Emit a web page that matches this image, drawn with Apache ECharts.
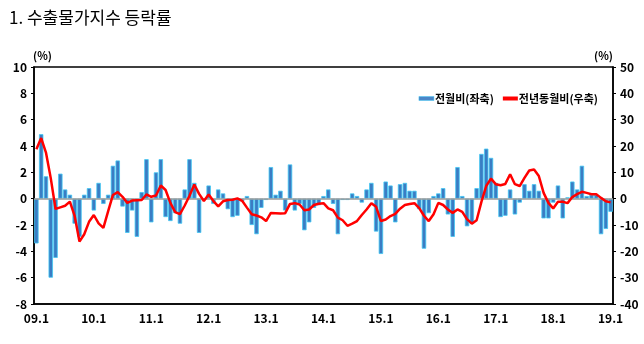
<!DOCTYPE html>
<html>
<head>
<meta charset="utf-8">
<script src="https://cdn.jsdelivr.net/npm/echarts@6/dist/echarts.min.js"></script>
<style>
html,body{margin:0;padding:0;background:#fff;}
#chart{width:644px;height:344px;}
</style>
</head>
<body>
<div id="chart"></div>
<script>
// Monthly categories 2009.1 - 2019.1
const years = ['09','10','11','12','13','14','15','16','17','18','19'];
const tickLabels = ['09.1','10.1','11.1','12.1','13.1','14.1','15.1','16.1','17.1','18.1','19.1'];
const categories = [];
years.forEach(function (y, k) {
  const last = (k === years.length - 1) ? 1 : 12;
  for (let m = 1; m <= last; m++) categories.push(y + '.' + m);
});

// 전월비 (left axis, %)
const momValues = [
  -3.4, 4.9, 1.7, -6.0, -4.5, 1.9, 0.7, 0.3, -1.9, -2.9, 0.3, 0.8,
  -0.9, 1.2, -0.4, 0.3, 2.5, 2.9, -0.6, -2.6, -0.9, -2.9, 0.5, 3.0,
  -1.8, 2.0, 3.0, -1.4, -1.7, -1.1, -1.9, 0.7, 3.0, 1.2, -2.6, -0.1,
  1.0, -0.4, 0.7, 0.4, -0.8, -1.4, -1.3, -0.2, 0.2, -2.0, -2.7, -0.7,
  -0.1, 2.4, 0.3, 0.6, -0.9, 2.6, -0.9, -0.4, -2.4, -1.8, -0.7, -0.5,
  0.2, 0.7, -0.4, -2.7, -0.1, -0.1, 0.4, 0.2, -0.3, 0.7, 1.2, -2.5,
  -4.2, 1.3, 1.0, -1.8, 1.1, 1.2, 0.6, 0.6, -0.8, -3.8, -1.1, 0.2,
  0.4, 0.8, -1.2, -2.9, 2.4, 0.2, -2.1, -1.9, 0.8, 3.4, 3.8, 3.1,
  1.2, -1.4, -1.3, 0.7, -1.2, -0.3, 1.1, 0.6, 1.1, 0.6, -1.5, -1.5,
  -0.3, 1.0, -1.5, 0.1, 1.3, 0.7, 2.5, 0.2, 0.3, 0.3, -2.7, -2.3,
  -1.0
];

// 전년동월비 (right axis, %)
const yoyValues = [
  18.8, 23.0, 17.5, 7.8, -3.9, -3.3, -2.7, -1.1, -6.6, -16.3, -13.5, -8.8,
  -6.2, -9.4, -11.1, -4.7, 1.4, 2.5, 0.7, -1.6, -0.7, -0.6, -0.5, 1.6,
  0.7, 1.2, 5.0, 3.3, -1.6, -5.1, -5.9, -2.6, 1.1, 5.4, 1.8, -0.9,
  1.6, -0.9, -2.9, -1.0, -0.5, -0.4, 0.1, -0.8, -3.4, -5.9, -6.4, -7.1,
  -8.5, -5.4, -5.5, -5.6, -5.5, -2.0, -1.7, -2.2, -4.4, -4.1, -2.4, -1.9,
  -1.7, -3.7, -4.4, -7.2, -8.2, -10.3, -9.5, -8.5, -6.2, -4.1, -1.7, -3.1,
  -8.5, -7.9, -6.6, -5.8, -3.8, -2.4, -2.0, -1.7, -3.6, -6.5, -8.5, -5.9,
  -1.6, -2.4, -4.1, -5.4, -4.1, -5.0, -7.8, -9.5, -8.2, -1.2, 4.8, 7.6,
  5.5, 5.1, 5.6, 9.3, 5.5, 4.8, 7.9, 10.7, 11.1, 8.6, 2.2, -1.6,
  -3.7, -1.2, -1.2, -1.7, 0.6, 1.7, 2.6, 2.2, 1.7, 1.7, 0.3, -1.0,
  -1.4
];

const seriesNames = ['전월비(좌축)', '전년동월비(우축)'];
const titleText = '1. 수출물가지수 등락률';

const FONT = "'Liberation Sans Narrow','Noto Sans CJK KR',sans-serif";

const chart = echarts.init(document.getElementById('chart'), null, {renderer: 'canvas'});
chart.setOption({
  animation: false,
  backgroundColor: '#fff',
  title: {
    text: titleText,
    left: 4, top: 4,
    textStyle: {fontFamily: "'Noto Sans CJK KR',sans-serif", fontSize: 17, fontWeight: 'normal', color: '#000'}
  },
  legend: {
    right: 41, top: 88,
    itemWidth: 15, itemHeight: 4, itemGap: 9,
    textStyle: {fontFamily: FONT, fontSize: 11, fontWeight: 'bold', color: '#000', padding: [0, 0, 0, -4]},
    data: [
      {name: seriesNames[0], icon: 'rect', itemStyle: {color: '#4a86c8', borderColor: '#40c8f4', borderWidth: 0.5}},
      {name: seriesNames[1], icon: 'rect', itemStyle: {color: '#ff0000', borderWidth: 0}}
    ]
  },
  grid: {
    left: 34, right: 31, top: 67, bottom: 40,
    show: true, borderColor: '#000', borderWidth: 1.5, containLabel: false
  },
  xAxis: {
    type: 'category',
    data: categories,
    boundaryGap: true,
    axisLine: {show: true, onZero: false, lineStyle: {color: '#000', width: 1.5}},
    axisTick: {show: false},
    axisLabel: {
      interval: 11, margin: 8,
      fontFamily: FONT, fontSize: 12, fontWeight: 'bold', color: '#000',
      formatter: function (v) { return tickLabels.indexOf(v) >= 0 ? v : ''; }
    },
    splitLine: {show: false}
  },
  yAxis: [
    {
      type: 'value', min: -8, max: 10, interval: 2,
      name: '(%)', nameLocation: 'end', nameGap: 6,
      nameTextStyle: {fontFamily: FONT, fontSize: 11, fontWeight: 'bold', color: '#000', align: 'left', padding: [0, 0, 0, -1]},
      axisLine: {show: true, lineStyle: {color: '#000', width: 1.5}},
      axisTick: {show: true, inside: false, length: 3, lineStyle: {color: '#000'}},
      axisLabel: {margin: 7, fontFamily: FONT, fontSize: 12, fontWeight: 'bold', color: '#000'},
      splitLine: {show: false}
    },
    {
      type: 'value', min: -40, max: 50, interval: 10,
      name: '(%)', nameLocation: 'end', nameGap: 6,
      nameTextStyle: {fontFamily: FONT, fontSize: 11, fontWeight: 'bold', color: '#000', align: 'right'},
      axisLine: {show: true, lineStyle: {color: '#000', width: 1.5}},
      axisTick: {show: true, inside: false, length: 3, lineStyle: {color: '#000'}},
      axisLabel: {margin: 7, fontFamily: FONT, fontSize: 12, fontWeight: 'bold', color: '#000'},
      splitLine: {show: false}
    }
  ],
  series: [
    {
      name: seriesNames[0],
      type: 'bar',
      yAxisIndex: 0,
      data: momValues,
      barCategoryGap: '8%',
      itemStyle: {color: '#3b7cc3', borderColor: '#40c8f4', borderWidth: 0.8},
      markLine: {
        silent: true, symbol: 'none', label: {show: false},
        lineStyle: {color: '#9a9a9a', width: 1.5, type: 'solid'},
        data: [{yAxis: 0}]
      },
      z: 2
    },
    {
      name: seriesNames[1],
      type: 'line',
      yAxisIndex: 1,
      data: yoyValues,
      symbol: 'none',
      smooth: false,
      lineStyle: {color: '#ff0000', width: 2.5},
      itemStyle: {color: '#ff0000'},
      z: 5
    }
  ]
});
</script>
</body>
</html>
